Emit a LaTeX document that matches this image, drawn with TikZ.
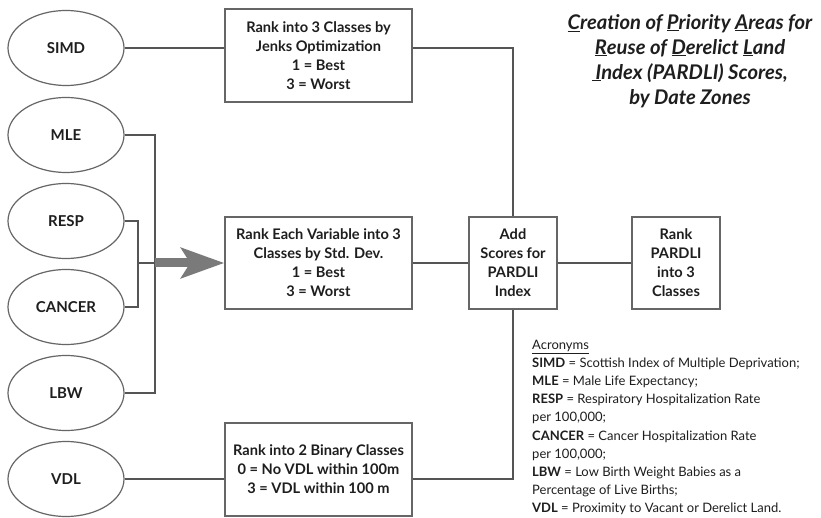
\documentclass[tikz,border=0pt]{standalone}
\usepackage{fontspec}
\setmainfont{Lato}
\usetikzlibrary{arrows.meta,shapes.geometric}
\definecolor{lineg}{HTML}{555555}
\definecolor{boxg}{HTML}{666666}
\definecolor{arrg}{HTML}{7A7A7A}
\definecolor{txt}{HTML}{1E1E1E}
\begin{document}
\begin{tikzpicture}[x=1pt,y=-1pt,
  ell/.style={ellipse,draw=boxg,line width=1.2pt,minimum width=116pt,minimum height=75pt,inner sep=0pt,text=txt,font=\fontsize{15}{18}\selectfont\bfseries},
  bx/.style={rectangle,draw=boxg,line width=1.4pt,minimum width=187pt,minimum height=93pt,inner sep=0pt,align=center,text=txt,font=\fontsize{14.6}{19}\selectfont\bfseries},
  sbx/.style={bx,minimum width=88pt,minimum height=92pt},
  conn/.style={draw=lineg,line width=1.2pt},
  fat/.style={draw=arrg,line width=9pt,-{Stealth[length=43pt,width=30pt,inset=9pt,fill=arrg]}}
]
\useasboundingbox[fill=white] (0,0) rectangle (821,518);
% ellipses
\node[ell] (simd) at (66,48) {SIMD};
\node[ell] (mle) at (66,135) {MLE};
\node[ell] (resp) at (66,221) {RESP};
\node[ell] (cancer) at (66,307) {CANCER};
\node[ell] (lbw) at (66,393) {LBW};
\node[ell] (vdl) at (66,479) {VDL};
% boxes
\node[bx] (box1) at (318.5,55.5) {Rank into 3 Classes by\\Jenks Optimization\\1 = Best\\3 = Worst};
\node[bx,minimum height=92pt] (box2) at (318.5,263) {Rank Each Variable into 3\\Classes by Std. Dev.\\1 = Best\\3 = Worst};
\node[bx] (box3) at (318.5,469.5) {Rank into 2 Binary Classes\\0 = No VDL within 100m\\3 = VDL within 100 m};
\node[sbx] (add) at (513,263) {Add\\Scores for\\PARDLI\\Index};
\node[sbx] (rank) at (676,263) {Rank\\PARDLI\\into 3\\Classes};
% brackets
\coordinate (j1) at (155,263);
\coordinate (j2) at (138,263);
\draw[conn] (mle.east) -- (mle.east -| j1) -- (lbw.east -| j1) -- (lbw.east);
\draw[conn] (resp.east) -- (resp.east -| j2) -- (cancer.east -| j2) -- (cancer.east);
\draw[conn] (j2) -- (j1);
\draw[fat] (j1) -- (box2.west);
% connectors
\draw[conn] (simd.east) -- (simd.east -| box1.west);
\draw[conn] (simd.east -| box1.east) -| (add.north);
\draw[conn] (box2.east) -- (add.west);
\draw[conn] (add.east) -- (rank.west);
\draw[conn] (vdl.east) -- (vdl.east -| box3.west);
\draw[conn] (vdl.east -| box3.east) -| (add.south);
% title
\node[align=center,text=txt,font=\fontsize{20.2}{25}\selectfont\bfseries\itshape] (title) at (690,61)
 {\underline{C}reation of \underline{P}riority \underline{A}reas for\\\underline{R}euse of \underline{D}erelict \underline{L}and\\\underline{\,I}ndex (PARDLI) Scores,\\by Date Zones};
% acronyms
\node[anchor=north west,align=left,inner sep=0pt,text=txt,font=\fontsize{13}{18.1}\selectfont] (acr) at (532,340)
 {\underline{Acronyms}\\
 \textbf{SIMD} = Scottish Index of Multiple Deprivation;\\
 \textbf{MLE} = Male Life Expectancy;\\
 \textbf{RESP} = Respiratory Hospitalization Rate\\
 per 100,000;\\
 \textbf{CANCER} = Cancer Hospitalization Rate\\
 per 100,000;\\
 \textbf{LBW} = Low Birth Weight Babies as a\\
 Percentage of Live Births;\\
 \textbf{VDL} = Proximity to Vacant or Derelict Land.};
\end{tikzpicture}
\end{document}
